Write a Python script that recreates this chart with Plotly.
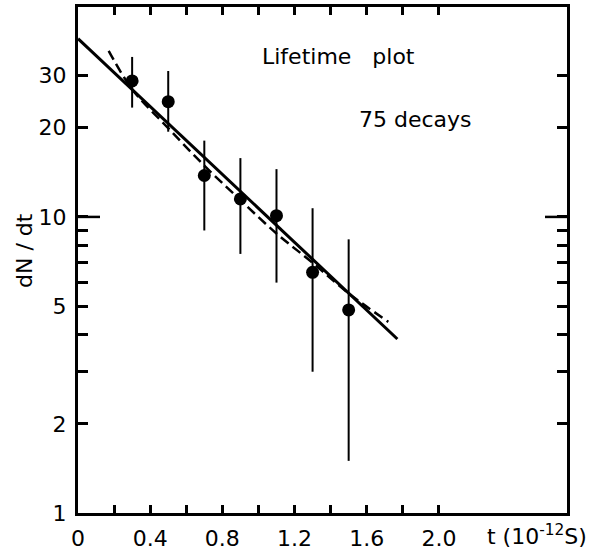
import plotly.graph_objects as go

# Measured decay rate per time bin
t_bins = [0.3, 0.5, 0.7, 0.9, 1.1, 1.3, 1.5]
dndt = [28.8, 24.5, 13.8, 11.5, 10.1, 6.5, 4.85]
err_hi = [34.7, 31.1, 18.1, 15.8, 14.5, 10.7, 8.4]
err_lo = [23.4, 19.4, 9.0, 7.5, 6.0, 3.0, 1.5]

# Exponential fit (solid) and alternative fit curve (dashed)
fit_t = [0.0, 1.77]
fit_y = [40.0, 3.87]
alt_t = [0.17, 0.30, 0.50, 0.70, 0.90, 1.10, 1.30, 1.50, 1.72]
alt_y = [36.4, 27.0, 19.95, 14.9, 11.4, 8.79, 7.0, 5.52, 4.42]

x_ticks = [0.0, 0.2, 0.4, 0.6, 0.8, 1.0, 1.2, 1.4, 1.6, 1.8, 2.0]
x_labels = ["0", "", "0.4", "", "0.8", "", "1.2", "", "1.6", "", "2.0"]
y_ticks = [1, 2, 3, 4, 5, 6, 7, 8, 9, 10, 20, 30]
y_labels = ["1", "2", "", "", "5", "", "", "", "", "10", "20", "30"]

FONT = "DejaVu Sans"

fig = go.Figure()

fig.add_trace(go.Scatter(
    x=fit_t, y=fit_y, mode="lines",
    line=dict(color="black", width=3), showlegend=False,
))
fig.add_trace(go.Scatter(
    x=alt_t, y=alt_y, mode="lines", line_shape="spline",
    line=dict(color="black", width=2.5, dash="10px,5px"), showlegend=False,
))
fig.add_trace(go.Scatter(
    x=t_bins, y=dndt, mode="markers",
    marker=dict(color="black", size=13),
    error_y=dict(
        type="data", symmetric=False,
        array=[h - v for h, v in zip(err_hi, dndt)],
        arrayminus=[v - l for v, l in zip(dndt, err_lo)],
        color="black", thickness=2, width=0,
    ),
    showlegend=False,
))

axis_common = dict(
    showline=True, linecolor="black", linewidth=3, mirror="ticks",
    ticks="inside", tickcolor="black", tickwidth=2.5,
    showgrid=False, zeroline=False, automargin=False,
    tickfont=dict(family=FONT, size=22, color="black"),
)

fig.update_xaxes(
    range=[0, 2.71], tickmode="array", tickvals=x_ticks, ticktext=x_labels,
    ticklen=8, ticklabelstandoff=4, **axis_common,
)
fig.update_yaxes(
    type="log", range=[0, 1.709], tickmode="array",
    tickvals=y_ticks, ticktext=y_labels, ticklen=10, ticklabelstandoff=4,
    **axis_common,
)

# Longer tick marks at dN/dt = 10 on both vertical axes
for x0, x1 in [(0, 0.045), (0.955, 1)]:
    fig.add_shape(type="line", xref="paper", yref="y", x0=x0, x1=x1, y0=10, y1=10,
                  line=dict(color="black", width=2.5))

txt = dict(family=FONT, size=22, color="black")
fig.add_annotation(text="Lifetime\u00a0\u00a0\u00a0plot", xref="paper", yref="paper",
                   x=(338 - 78) / 489, y=(513 - 57) / 506, showarrow=False,
                   font=txt, xanchor="center", yanchor="middle")
fig.add_annotation(text="75 decays", xref="paper", yref="paper",
                   x=(415 - 78) / 489, y=(513 - 119) / 506, showarrow=False,
                   font=txt, xanchor="center", yanchor="middle")
fig.add_annotation(text="dN\u00a0/\u00a0dt", xref="paper", yref="paper",
                   x=(24 - 78) / 489, y=(513 - 251) / 506, showarrow=False,
                   textangle=-90, font=txt, xanchor="center", yanchor="middle")
fig.add_annotation(text="t (10<sup>-12</sup>S)", xref="paper", yref="paper",
                   x=(537 - 78) / 489, y=-(535 - 513) / 506, showarrow=False,
                   font=dict(family=FONT, size=22, color="black"),
                   xanchor="center", yanchor="middle")

fig.update_layout(
    width=597, height=551,
    margin=dict(l=78, r=30, t=7, b=38),
    paper_bgcolor="white", plot_bgcolor="white",
)

fig.write_html("out.html")
